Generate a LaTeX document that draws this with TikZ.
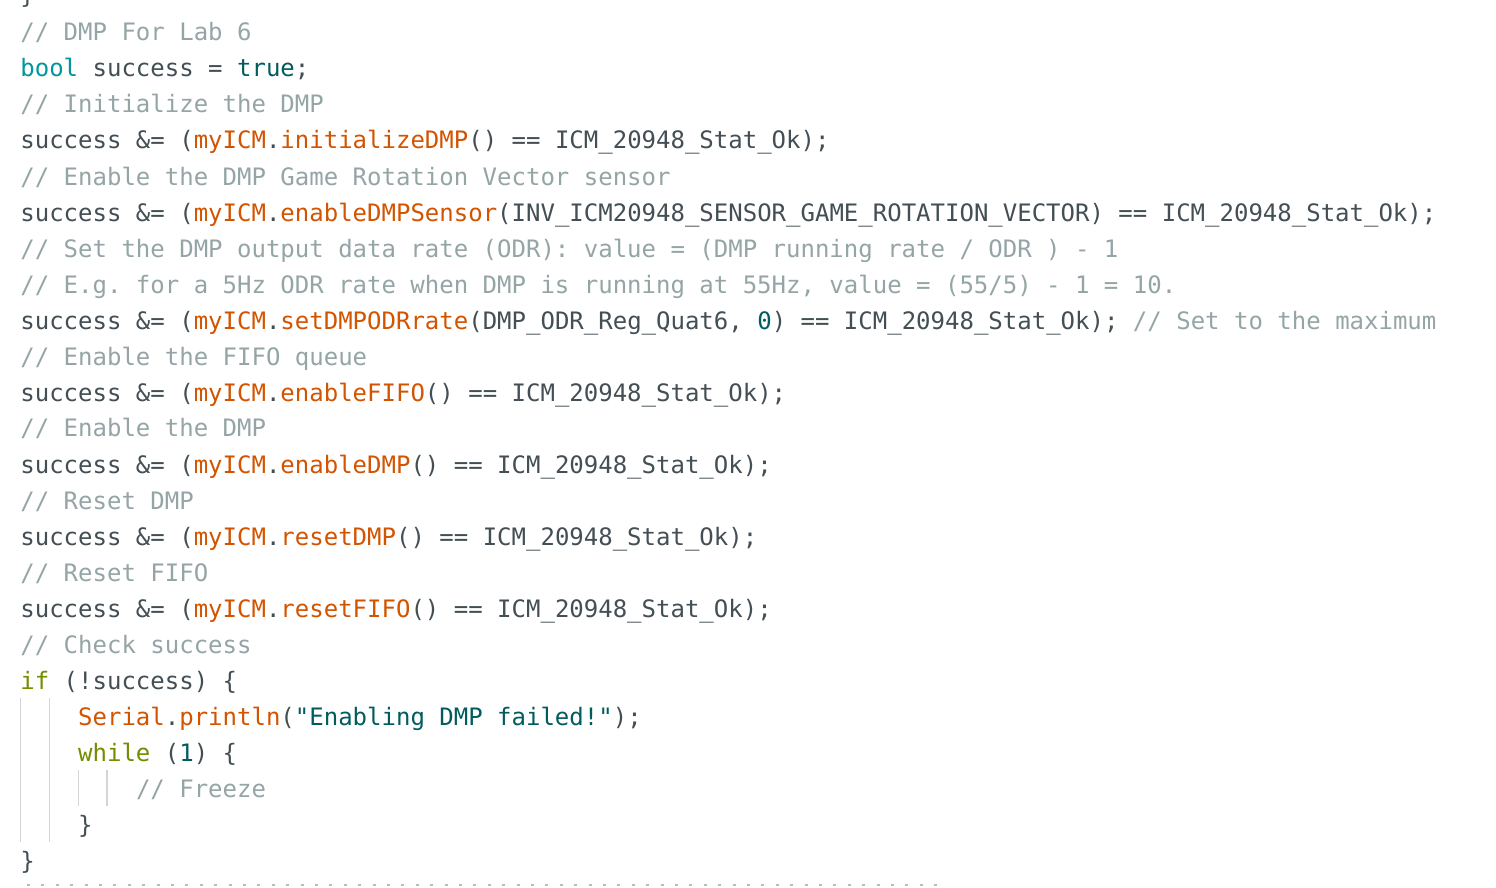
\documentclass[tikz,border=0pt]{standalone}
\usepackage{fontspec}
\setmonofont{DejaVu Sans Mono}
\usepackage{tikz}
\definecolor{txt}{HTML}{434F54}
\definecolor{cmt}{HTML}{95A5A6}
\definecolor{fnc}{HTML}{D35400}
\definecolor{kwd}{HTML}{00979C}
\definecolor{lit}{HTML}{005C5F}
\definecolor{ctl}{HTML}{728E00}
\definecolor{guide}{HTML}{D4D6D6}
\newcommand{\codecm}[1]{\textcolor{cmt}{#1}}
\newcommand{\codefn}[1]{\textcolor{fnc}{#1}}
\newcommand{\codekw}[1]{\textcolor{kwd}{#1}}
\newcommand{\codelit}[1]{\textcolor{lit}{#1}}
\newcommand{\codectl}[1]{\textcolor{ctl}{#1}}
\tikzset{codeline/.style={anchor=base west, inner sep=0pt, text=txt,
        font=\ttfamily\fontsize{12pt}{18pt}\selectfont},
        guideline/.style={draw=guide, line width=0.75pt}}

\begin{document}
\begin{tikzpicture}[x=0.5pt, y=-0.5pt]
    \useasboundingbox (0,0) rectangle (1496,888);
    \clip (0,0) rectangle (1496,888);
    \fill[white] (0,0) rectangle (1496,888);
    % code lines, 36px apart
    \node [codeline] (l0) at (20,4) {\}};
    \node [codeline] (l1) at (20,41) {\codecm{// DMP For Lab 6}};
    \node [codeline] (l2) at (20,77) {\codekw{bool} success = \codelit{true};};
    \node [codeline] (l3) at (20,113) {\codecm{// Initialize the DMP}};
    \node [codeline] (l4) at (20,149) {success \&= (\codefn{myICM}.\codefn{initializeDMP}() == ICM\_20948\_Stat\_Ok);};
    \node [codeline] (l5) at (20,185) {\codecm{// Enable the DMP Game Rotation Vector sensor}};
    \node [codeline] (l6) at (20,221) {success \&= (\codefn{myICM}.\codefn{enableDMPSensor}(INV\_ICM20948\_SENSOR\_GAME\_ROTATION\_VECTOR) == ICM\_20948\_Stat\_Ok);};
    \node [codeline] (l7) at (20,257) {\codecm{// Set the DMP output data rate (ODR): value = (DMP running rate / ODR ) - 1}};
    \node [codeline] (l8) at (20,293) {\codecm{// E.g. for a 5Hz ODR rate when DMP is running at 55Hz, value = (55/5) - 1 = 10.}};
    \node [codeline] (l9) at (20,329) {success \&= (\codefn{myICM}.\codefn{setDMPODRrate}(DMP\_ODR\_Reg\_Quat6, \codelit{0}) == ICM\_20948\_Stat\_Ok); \codecm{// Set to the maximum}};
    \node [codeline] (l10) at (20,365) {\codecm{// Enable the FIFO queue}};
    \node [codeline] (l11) at (20,401) {success \&= (\codefn{myICM}.\codefn{enableFIFO}() == ICM\_20948\_Stat\_Ok);};
    \node [codeline] (l12) at (20,437) {\codecm{// Enable the DMP}};
    \node [codeline] (l13) at (20,473) {success \&= (\codefn{myICM}.\codefn{enableDMP}() == ICM\_20948\_Stat\_Ok);};
    \node [codeline] (l14) at (20,509) {\codecm{// Reset DMP}};
    \node [codeline] (l15) at (20,545) {success \&= (\codefn{myICM}.\codefn{resetDMP}() == ICM\_20948\_Stat\_Ok);};
    \node [codeline] (l16) at (20,581) {\codecm{// Reset FIFO}};
    \node [codeline] (l17) at (20,617) {success \&= (\codefn{myICM}.\codefn{resetFIFO}() == ICM\_20948\_Stat\_Ok);};
    \node [codeline] (l18) at (20,653) {\codecm{// Check success}};
    \node [codeline] (l19) at (20,689) {\codectl{if} (!success) \{};
    \node [codeline] (l20) at (77.8,725) {\codefn{Serial}.\codefn{println}(\codelit{"Enabling DMP failed!"});};
    \node [codeline] (l21) at (77.8,761) {\codectl{while} (\codelit{1}) \{};
    \node [codeline] (l22) at (135.6,797) {\codecm{// Freeze}};
    \node [codeline] (l23) at (77.8,833) {\}};
    \node [codeline] (l24) at (20,869) {\}};
    % indent guides
    \coordinate (ga) at (20.5,698);
    \coordinate (gb) at (20.5,842);
    \coordinate (gc) at (49.4,698);
    \coordinate (gd) at (49.4,842);
    \coordinate (ge) at (78.3,770);
    \coordinate (gf) at (78.3,806);
    \coordinate (gg) at (107.2,770);
    \coordinate (gh) at (107.2,806);
    \draw [guideline] (ga) -- (gb);
    \draw [guideline] (gc) -- (gd);
    \draw [guideline] (ge) -- (gf);
    \draw [guideline] (gg) -- (gh);
    % folded region marker
    \coordinate (da) at (27,885);
    \coordinate (db) at (946,885);
    \draw [draw=cmt!70, line width=0.8pt, dash pattern=on 1.5pt off 5.7pt] (da) -- (db);
\end{tikzpicture}
\end{document}
